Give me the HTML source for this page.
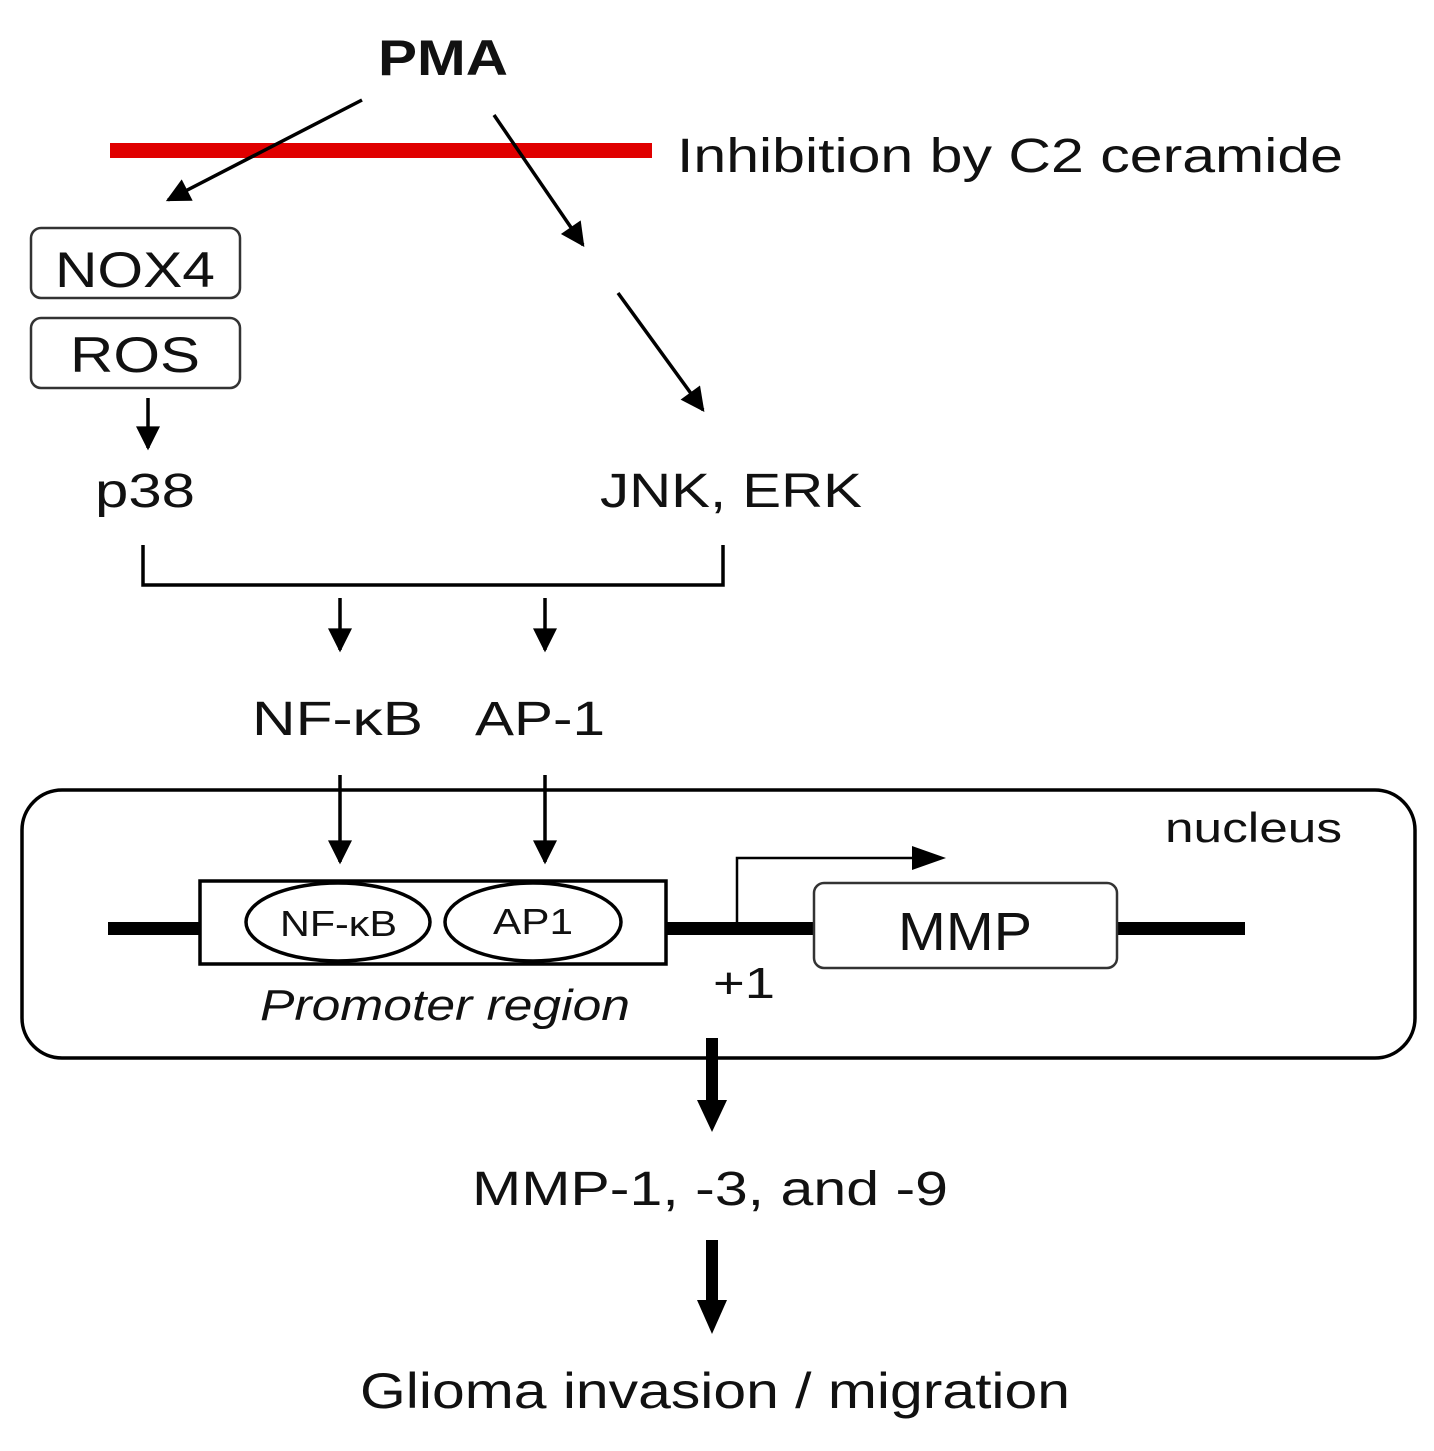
<!DOCTYPE html>
<html><head><style>body{margin:0;background:#fff}svg{display:block}text{font-family:"Liberation Sans",sans-serif;fill:#111}</style></head>
<body>
<svg width="1434" height="1451" viewBox="0 0 1434 1451" xmlns="http://www.w3.org/2000/svg">
<defs>
<marker id="b" viewBox="0 0 10 10" refX="9" refY="5" markerWidth="26" markerHeight="24" orient="auto" markerUnits="userSpaceOnUse"><path d="M0,0 L10,5 L0,10 z" fill="#000"/></marker>
</defs>
<text x="378" y="75" font-size="50" font-weight="bold" textLength="130" lengthAdjust="spacingAndGlyphs">PMA</text>
<rect x="110" y="143" width="542" height="15" fill="#e00000"/>
<text x="677" y="172" font-size="48" textLength="666" lengthAdjust="spacingAndGlyphs">Inhibition by C2 ceramide</text>
<g stroke="#000" stroke-width="3.5" fill="none">
<line x1="362" y1="100" x2="168" y2="200" marker-end="url(#b)"/>
<line x1="494" y1="115" x2="583" y2="245" marker-end="url(#b)"/>
<line x1="618" y1="293" x2="703" y2="410" marker-end="url(#b)"/>
<line x1="148" y1="398" x2="148" y2="448" marker-end="url(#b)"/>
<polyline points="143,545 143,585 723,585 723,545"/>
<line x1="340" y1="598" x2="340" y2="650" marker-end="url(#b)"/>
<line x1="545" y1="598" x2="545" y2="650" marker-end="url(#b)"/>
<line x1="340" y1="775" x2="340" y2="862" marker-end="url(#b)"/>
<line x1="545" y1="775" x2="545" y2="862" marker-end="url(#b)"/>
</g>
<rect x="31" y="228" width="209" height="70" rx="10" fill="#fff" stroke="#333" stroke-width="2.5"/>
<text x="55" y="287" font-size="50" textLength="160" lengthAdjust="spacingAndGlyphs">NOX4</text>
<rect x="31" y="318" width="209" height="70" rx="10" fill="#fff" stroke="#333" stroke-width="2.5"/>
<text x="70" y="372" font-size="50" textLength="130" lengthAdjust="spacingAndGlyphs">ROS</text>
<text x="95" y="507" font-size="48" textLength="100" lengthAdjust="spacingAndGlyphs">p38</text>
<text x="600" y="507" font-size="48" textLength="262" lengthAdjust="spacingAndGlyphs">JNK, ERK</text>
<text x="252" y="735" font-size="48" textLength="171" lengthAdjust="spacingAndGlyphs">NF-κB</text>
<text x="475" y="735" font-size="48" textLength="130" lengthAdjust="spacingAndGlyphs">AP-1</text>
<rect x="22" y="790" width="1393" height="268" rx="40" fill="none" stroke="#000" stroke-width="3.5"/>
<text x="1165" y="842" font-size="42" fill="#333" textLength="177" lengthAdjust="spacingAndGlyphs">nucleus</text>
<rect x="108" y="922" width="1137" height="13" fill="#000"/>
<rect x="200" y="881" width="466" height="83" fill="#fff" stroke="#000" stroke-width="3.5"/>
<ellipse cx="338" cy="922" rx="92" ry="39" fill="#fff" stroke="#000" stroke-width="3.5"/>
<ellipse cx="533" cy="922" rx="88" ry="39" fill="#fff" stroke="#000" stroke-width="3.5"/>
<text x="280" y="936" font-size="36" fill="#333" textLength="117" lengthAdjust="spacingAndGlyphs">NF-κB</text>
<text x="493" y="934" font-size="36" fill="#333" textLength="80" lengthAdjust="spacingAndGlyphs">AP1</text>
<polyline points="737,922 737,858 920,858" fill="none" stroke="#000" stroke-width="2.5"/>
<path d="M912,846 L946,858 L912,870 z" fill="#000"/>
<rect x="814" y="883" width="303" height="85" rx="10" fill="#fff" stroke="#333" stroke-width="2.5"/>
<text x="898" y="950" font-size="54" textLength="134" lengthAdjust="spacingAndGlyphs">MMP</text>
<text x="713" y="998" font-size="44" textLength="62" lengthAdjust="spacingAndGlyphs">+1</text>
<text x="260" y="1020" font-size="44" font-style="italic" fill="#333" textLength="370" lengthAdjust="spacingAndGlyphs">Promoter region</text>
<rect x="706" y="1038" width="12" height="66" fill="#000"/>
<path d="M697,1100 L727,1100 L712,1132 z" fill="#000"/>
<rect x="706" y="1240" width="12" height="64" fill="#000"/>
<path d="M697,1300 L727,1300 L712,1334 z" fill="#000"/>
<text x="472" y="1205" font-size="48" textLength="476" lengthAdjust="spacingAndGlyphs">MMP-1, -3, and -9</text>
<text x="360" y="1408" font-size="50" textLength="710" lengthAdjust="spacingAndGlyphs">Glioma invasion / migration</text>
</svg>
</body></html>
